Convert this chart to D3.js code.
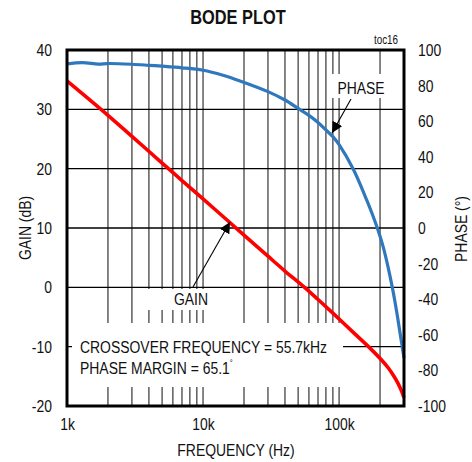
<!DOCTYPE html>
<html>
<head>
<meta charset="utf-8">
<script src="https://cdn.jsdelivr.net/npm/d3@7"></script>
<style>
  body { margin: 0; background: #fff; }
  svg text { font-family: "Liberation Sans", Arial, sans-serif; fill: #111; }
</style>
</head>
<body>
<div id="chart"></div>
<script>
// datos
const gainFreq = [1000, 2000, 3000, 5000, 7000, 10000, 15000, 20000, 30000, 40000, 55700, 70000, 90000, 130000, 168000, 206000, 230000, 251000, 270000, 288000, 300000];
const gainDb = [34.8, 29.0, 25.45, 20.95, 18.0, 14.9, 11.35, 8.8, 5.25, 2.75, 0, -2.05, -4.35, -7.8, -10.2, -12.3, -13.6, -14.85, -16.1, -17.5, -18.6];

const phaseFreq = [1000, 1300, 1700, 2000, 3000, 4000, 5000, 7000, 10000, 14000, 18700, 30000, 40000, 50000, 60000, 70000, 80000, 90000, 100000, 127000, 160000, 175000, 194000, 210000, 230000, 250000, 265000, 280000, 300000];
const phaseDeg = [92.2, 92.9, 92.1, 92.4, 92.0, 91.4, 90.9, 90.0, 88.6, 85.8, 82.6, 76.6, 71.9, 67.2, 63.3, 59.3, 55.1, 51.3, 46.8, 33.1, 15.5, 8.0, -1.5, -10, -22.5, -36, -47, -58.5, -73];

const gainTicks = [-20, -10, 0, 10, 20, 30, 40];
const phaseTicks = [-100, -80, -60, -40, -20, 0, 20, 40, 60, 80, 100];
const freqTicks = [1000, 10000, 100000];
const freqLabels = ["1k", "10k", "100k"];

const W = 472, H = 462;
const plot = { left: 67, right: 404, top: 50, bottom: 406 };
const narrow = 0.82; // la fuente original es estrecha

const svg = d3.select("#chart").append("svg")
  .attr("width", W).attr("height", H);

const x = d3.scaleLog().domain([1000, 300000]).range([plot.left, plot.right]);
const yGain = d3.scaleLinear().domain([-20, 40]).range([plot.bottom, plot.top]);
const yPhase = d3.scaleLinear().domain([-100, 100]).range([plot.bottom, plot.top]);

function addText(px, py, str, size, anchor, rotate) {
  const g = svg.append("g")
    .attr("transform", `translate(${px},${py})` + (rotate ? " rotate(-90)" : ""));
  return g.append("text")
    .attr("transform", `scale(${narrow},1)`)
    .attr("text-anchor", anchor || "start")
    .attr("font-size", size)
    .text(str);
}

// rejilla vertical
const gridX = x.ticks().filter(f => f > 1000 && f < 300000);
svg.append("g").selectAll("line").data(gridX).enter().append("line")
  .attr("x1", d => x(d)).attr("x2", d => x(d))
  .attr("y1", plot.top).attr("y2", plot.bottom)
  .attr("stroke", "#444").attr("stroke-width", 1.3);

// rejilla horizontal
svg.append("g").selectAll("line").data(gainTicks.slice(1, -1)).enter().append("line")
  .attr("x1", plot.left).attr("x2", plot.right)
  .attr("y1", d => yGain(d)).attr("y2", d => yGain(d))
  .attr("stroke", "#000").attr("stroke-width", 1.4);

// fondos blancos detras de las etiquetas
const masks = [
  [140, 289, 72, 21],
  [72, 323, 271, 64],
  [329, 74, 62, 24]
];
svg.append("g").selectAll("rect").data(masks).enter().append("rect")
  .attr("x", d => d[0]).attr("y", d => d[1])
  .attr("width", d => d[2]).attr("height", d => d[3])
  .attr("fill", "#fff");

// curvas
const gainLine = d3.line()
  .x((d, i) => x(gainFreq[i]))
  .y(d => yGain(d))
  .curve(d3.curveCatmullRom.alpha(0.5));
const phaseLine = d3.line()
  .x((d, i) => x(phaseFreq[i]))
  .y(d => yPhase(d))
  .curve(d3.curveCatmullRom.alpha(0.5));

svg.append("path").datum(phaseDeg)
  .attr("d", phaseLine)
  .attr("fill", "none").attr("stroke", "#2f78bd").attr("stroke-width", 3.2);
svg.append("path").datum(gainDb)
  .attr("d", gainLine)
  .attr("fill", "none").attr("stroke", "#ff0000").attr("stroke-width", 3.6);

// marco
svg.append("rect")
  .attr("x", plot.left).attr("y", plot.top)
  .attr("width", plot.right - plot.left).attr("height", plot.bottom - plot.top)
  .attr("fill", "none").attr("stroke", "#000").attr("stroke-width", 3);

// ejes
const axL = svg.append("g")
  .attr("transform", `translate(${plot.left},0)`)
  .call(d3.axisLeft(yGain).tickValues(gainTicks).tickFormat(d => String(d)).tickSize(0).tickPadding(15));
const axR = svg.append("g")
  .attr("transform", `translate(${plot.right},0)`)
  .call(d3.axisRight(yPhase).tickValues(phaseTicks).tickFormat(d => String(d)).tickSize(0).tickPadding(14));
const axB = svg.append("g")
  .attr("transform", `translate(0,${plot.bottom})`)
  .call(d3.axisBottom(x).tickValues(freqTicks).tickFormat((d, i) => freqLabels[i]).tickSize(0).tickPadding(12));

[axL, axR, axB].forEach(a => {
  a.select(".domain").remove();
  a.selectAll("text")
    .attr("font-size", 17)
    .style("font-family", "'Liberation Sans', Arial, sans-serif")
    .attr("fill", "#111")
    .attr("x", function () { return (+d3.select(this).attr("x") || 0) / narrow; })
    .attr("transform", `scale(${narrow},1)`);
});

// textos
addText(238, 24, "BODE PLOT", 20, "middle").attr("font-weight", "bold");
addText(398, 44, "toc16", 12, "end");
addText(236, 456, "FREQUENCY (Hz)", 17, "middle");
addText(31, 228, "GAIN (dB)", 17, "middle", true);
addText(467, 229, "PHASE (°)", 17, "middle", true);
addText(361, 94, "PHASE", 17, "middle");
addText(191, 305, "GAIN", 17, "middle");
addText(80, 353, "CROSSOVER FREQUENCY = 55.7kHz", 17);
const pm = addText(80, 374, "", 17);
pm.append("tspan").text("PHASE MARGIN = 65.1");
pm.append("tspan").attr("dy", -8).attr("font-size", 9).text("°");

// flechas
svg.append("defs").append("marker")
  .attr("id", "head").attr("viewBox", "0 0 10 10")
  .attr("refX", 10).attr("refY", 5)
  .attr("markerWidth", 11).attr("markerHeight", 11)
  .attr("markerUnits", "userSpaceOnUse")
  .attr("orient", "auto")
  .append("path").attr("d", "M0,0 L10,5 L0,10 Z").attr("fill", "#000");

const arrows = [
  [351, 99, 332, 133],
  [193, 287, 230, 222]
];
svg.append("g").selectAll("line").data(arrows).enter().append("line")
  .attr("x1", d => d[0]).attr("y1", d => d[1])
  .attr("x2", d => d[2]).attr("y2", d => d[3])
  .attr("stroke", "#000").attr("stroke-width", 1.1)
  .attr("marker-end", "url(#head)");
</script>
</body>
</html>
